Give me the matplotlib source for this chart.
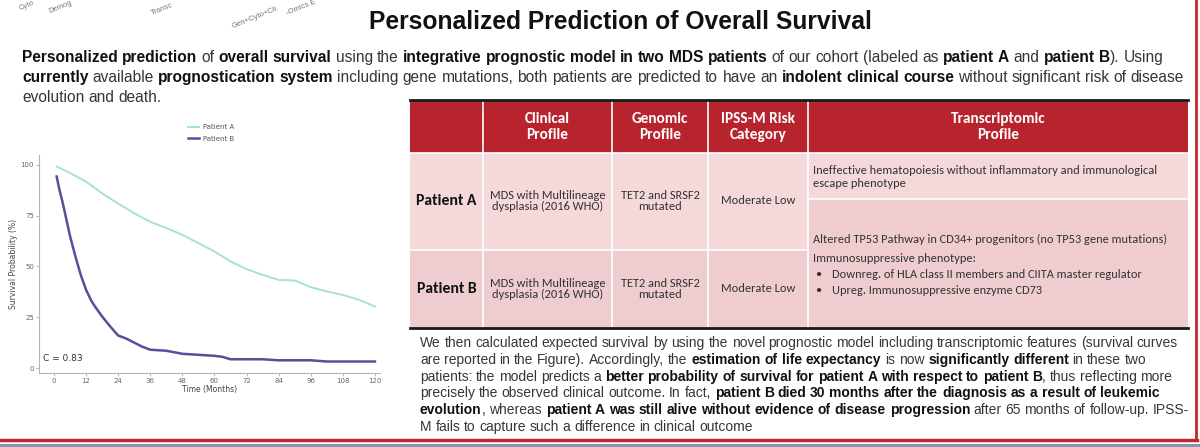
import matplotlib
matplotlib.use("Agg")
import matplotlib.pyplot as plt
from matplotlib import font_manager
from matplotlib.lines import Line2D
from matplotlib.patches import Rectangle

W, H = 1200, 447

# survival curves (months, %)
months_a = [1, 6, 12, 18, 24, 30, 36, 42, 48, 54, 60, 66, 72, 78, 84, 90, 96, 102, 108, 114, 120]
surv_a = [99.2, 96, 91.8, 86, 81, 76.2, 72, 68.9, 65.6, 61.5, 57.4, 52.5, 48.7, 45.9, 43.4,
          43.1, 39.8, 37.7, 36, 33.6, 30.3]
months_b = [1, 2, 3, 4, 6, 8, 10, 12, 14, 16, 18, 21, 24, 27, 30, 33, 36, 42, 48, 54, 60,
            63, 66, 72, 78, 84, 96, 102, 108, 120]
surv_b = [94.3, 88, 82.8, 77, 65, 55, 45.9, 38.5, 33, 29, 25.4, 20.5, 16, 14.5, 12.5, 10.5,
          9, 8.5, 7, 6.5, 6, 5.5, 4.3, 4.3, 4.3, 3.8, 3.8, 3.2, 3.2, 3.2]
series_names = ["Patient A", "Patient B"]
c_index = "C = 0.83"
x_ticks = [0, 12, 24, 36, 48, 60, 72, 84, 96, 108, 120]
y_ticks = [0, 25, 50, 75, 100]

# table content
header = ["", "Clinical\nProfile", "Genomic\nProfile", "IPSS-M Risk\nCategory", "Transcriptomic\nProfile"]
row_labels = ["Patient A", "Patient B"]
clinical = ["MDS with Multilineage\ndysplasia (2016 WHO)", "MDS with Multilineage\ndysplasia (2016 WHO)"]
genomic = ["TET2 and SRSF2\nmutated", "TET2 and SRSF2\nmutated"]
risk = ["Moderate Low", "Moderate Low"]
transc_a = "Ineffective hematopoiesis without inflammatory and immunological\nescape phenotype"
transc_shared = "Altered TP53 Pathway in CD34+ progenitors (no TP53 gene mutations)"
transc_b = "Immunosuppressive phenotype:"
transc_b_bullets = ["Downreg. of HLA class II members and CIITA master regulator",
                    "Upreg. Immunosuppressive enzyme CD73"]

title = "Personalized Prediction of Overall Survival"
intro = [
    [("Personalized prediction", 1), (" of ", 0), ("overall survival", 1), (" using the ", 0),
     ("integrative prognostic model in two MDS patients", 1), (" of our cohort (labeled as ", 0),
     ("patient A", 1), (" and ", 0), ("patient B", 1), ("). Using", 0)],
    [("currently", 1), (" available ", 0), ("prognostication system", 1),
     (" including gene mutations, both patients are predicted to have an ", 0),
     ("indolent clinical course", 1), (" without significant risk of disease", 0)],
    [("evolution and death.", 0)],
]
outro = [
    [("We then calculated expected survival by using the novel prognostic model including transcriptomic features (survival curves", 0)],
    [("are reported in the Figure). Accordingly, the ", 0), ("estimation of life expectancy", 1), (" is now ", 0),
     ("significantly different", 1), (" in these two", 0)],
    [("patients: the model predicts a ", 0),
     ("better probability of survival for patient A with respect to patient B", 1), (", thus reflecting more", 0)],
    [("precisely the observed clinical outcome. In fact, ", 0),
     ("patient B died 30 months after the diagnosis as a result of leukemic", 1)],
    [("evolution", 1), (", whereas ", 0), ("patient A was still alive without evidence of disease progression", 1),
     (" after 65 months of follow-up. IPSS-", 0)],
    [("M fails to capture such a difference in clinical outcome", 0)],
]
# visible starts of the rotated tick labels of the chart above
cut_labels = ["Cyto", "Demog", "Transc", "Gen+Cyto+Cli", "-Omics E"]

installed = {f.name for f in font_manager.fontManager.ttflist}
para_font = "Liberation Sans Narrow" if "Liberation Sans Narrow" in installed else "Liberation Sans"
table_font = next(f for f in ["Carlito", "Lato", "Open Sans", "DejaVu Sans"] if f in installed)

# mathtext is only used to measure word positions of the mixed bold/regular lines
plt.rcParams["mathtext.fontset"] = "custom"
plt.rcParams["mathtext.rm"] = para_font
plt.rcParams["mathtext.bf"] = para_font + ":bold"

RED = "#b8242e"
PINK_A = "#f4d8da"
PINK_B = "#efcccf"

fig = plt.figure(figsize=(W / 100, H / 100), dpi=100)
canvas = fig.add_axes([0, 0, 1, 1])
canvas.set_xlim(0, W)
canvas.set_ylim(H, 0)
canvas.axis("off")
renderer = fig.canvas.get_renderer()


def ext(s, size):
    t = canvas.text(0, 0, s, fontsize=size, family=para_font)
    w = t.get_window_extent(renderer).width
    t.remove()
    return w


def advance(s, size):
    return ext(s + r"$|$", size) - ext(r"$|$", size)


def split_words(parts):
    items, prefix = [], ""
    for txt, bold in parts:
        words = txt.split(" ")
        for k, w in enumerate(words):
            if w:
                items.append((w, bold, prefix))
                prefix += (r"$\mathbf{%s}$" % w) if bold else w
            if k < len(words) - 1:
                prefix += " "
    return items, prefix


def para_line(x, y, parts, size):
    items, _ = split_words(parts)
    for w, bold, prefix in items:
        canvas.text(x + advance(prefix, size), y, w, fontsize=size, family=para_font,
                    fontweight="bold" if bold else "normal",
                    color="#111111" if bold else "#363636", va="baseline", ha="left")


def fit_size(parts, target):
    _, full = split_words(parts)
    return 10 * target / advance(full, 10)


# faded labels of the chart above, clipped by the top edge
for (lx, ly), lab in zip([(20, 10), (50, 13), (152, 15), (233, 28), (287, 15)], cut_labels):
    canvas.text(lx, ly, lab, rotation=22, rotation_mode="anchor", fontsize=5.5,
                family="Liberation Sans", color="#777777", ha="left", va="baseline")

# title
tt = canvas.text(620, 29, title, fontsize=10, fontweight="bold", family=para_font,
                 color="#111111", ha="center", va="baseline")
tt.set_fontsize(10 * 504 / tt.get_window_extent(renderer).width)

# intro paragraph
psize = min(fit_size(intro[0], 1160), fit_size(intro[1], 1162))
for i, parts in enumerate(intro):
    para_line(22, 62 + i * 20, parts, psize)

# closing paragraph
bsize = min(fit_size(outro[0], 758), fit_size(outro[4], 768))
for i, parts in enumerate(outro):
    para_line(420, 347 + i * 16.8, parts, bsize)

# table
cols = [410, 483, 612, 708, 808, 1188]
top, head_bot, row_sep, split, body_bot = 100, 153, 250, 199, 328
canvas.add_patch(Rectangle((cols[0], top), cols[-1] - cols[0], head_bot - top, color=RED, lw=0))
canvas.add_patch(Rectangle((cols[0], head_bot), cols[4] - cols[0], row_sep - head_bot, color=PINK_A, lw=0))
canvas.add_patch(Rectangle((cols[0], row_sep), cols[4] - cols[0], body_bot - row_sep, color=PINK_B, lw=0))
canvas.add_patch(Rectangle((cols[4], head_bot), cols[5] - cols[4], split - head_bot, color=PINK_A, lw=0))
canvas.add_patch(Rectangle((cols[4], split), cols[5] - cols[4], body_bot - split, color=PINK_B, lw=0))
for cx in cols[1:-1]:
    canvas.plot([cx, cx], [top, body_bot], color="white", lw=1.2)
canvas.plot([cols[0], cols[4]], [row_sep, row_sep], color="white", lw=1.2)
canvas.plot([cols[4], cols[5]], [split, split], color="white", lw=1.2)
canvas.plot([cols[0], cols[-1]], [head_bot, head_bot], color="white", lw=1.2)
canvas.plot([cols[0], cols[-1]], [top, top], color="#1a1a1a", lw=2)
canvas.plot([cols[0], cols[-1]], [body_bot, body_bot], color="#1a1a1a", lw=2)

centers = [(a + b) / 2 for a, b in zip(cols[:-1], cols[1:])]
for cx, lab in zip(centers, header):
    canvas.text(cx, 127, lab, ha="center", va="center", fontsize=11, fontweight="bold",
                family=table_font, color="white", linespacing=1.15)
body = dict(family=table_font, color="#333333", fontsize=8.9)
for r, ry in enumerate([201, 289]):
    canvas.text(centers[0], ry, row_labels[r], ha="center", va="center", fontsize=11.3,
                fontweight="bold", family=table_font, color="#111111")
    for cx, col in zip(centers[1:4], [clinical, genomic, risk]):
        canvas.text(cx, ry, col[r], ha="center", va="center", linespacing=1.1, **body)
tx = 813
canvas.text(tx, 177, transc_a, ha="left", va="center", linespacing=1.15, **body)
canvas.text(tx, 239, transc_shared, ha="left", va="center", **body)
canvas.text(tx, 258, transc_b, ha="left", va="center", **body)
for k, b in enumerate(transc_b_bullets):
    canvas.text(tx + 2, 274 + k * 16, "\u2022", ha="left", va="center", **body)
    canvas.text(tx + 19, 274 + k * 16, b, ha="left", va="center", **body)

# frame
canvas.plot([1195.5, 1195.5], [0, 440], color="#c0282f", lw=2)
canvas.plot([0, 1196.5], [439.5, 439.5], color="#c0282f", lw=2.5)
canvas.add_patch(Rectangle((0, 443.5), W, 3.5, color="#8496aa", lw=0))

# survival chart
ax = fig.add_axes([39 / W, 1 - 373 / H, (380 - 39) / W, (373 - 155) / H])
ax.patch.set_alpha(0)
ax.plot(months_a, surv_a, color="#a7e2cd", lw=1.4)
ax.plot(months_b, surv_b, color="#5a4d9b", lw=1.8)
ax.set_xlim(-5.6, 121.9)
ax.set_ylim(-2.46, 104.9)
ax.set_xticks(x_ticks)
ax.set_yticks(y_ticks)
for s in ["top", "right"]:
    ax.spines[s].set_visible(False)
for s in ["left", "bottom"]:
    ax.spines[s].set_color("#b5b5b5")
    ax.spines[s].set_linewidth(0.8)
ax.tick_params(labelsize=5, colors="#aaaaaa", labelcolor="#666666", length=2, width=0.6, pad=1.5)
ax.set_xlabel("Time (Months)", fontsize=5.5, color="#444444", labelpad=1)
ax.set_ylabel("Survival Probability (%)", fontsize=5.5, color="#444444", labelpad=2)
ax.text(-4.1, 4.9, c_index, fontsize=6.5, color="#333333", va="center")
handles = [Line2D([], [], color="#a7e2cd", lw=1.4), Line2D([], [], color="#5a4d9b", lw=1.8)]
ax.legend(handles, series_names, loc="upper left", bbox_to_anchor=(188 / W, 1 - 124 / H),
          bbox_transform=fig.transFigure, frameon=False, fontsize=5, labelcolor="#555555",
          handlelength=1.6, handletextpad=0.6, labelspacing=0.8, borderpad=0, borderaxespad=0)

fig.savefig("out.png", dpi=100)
